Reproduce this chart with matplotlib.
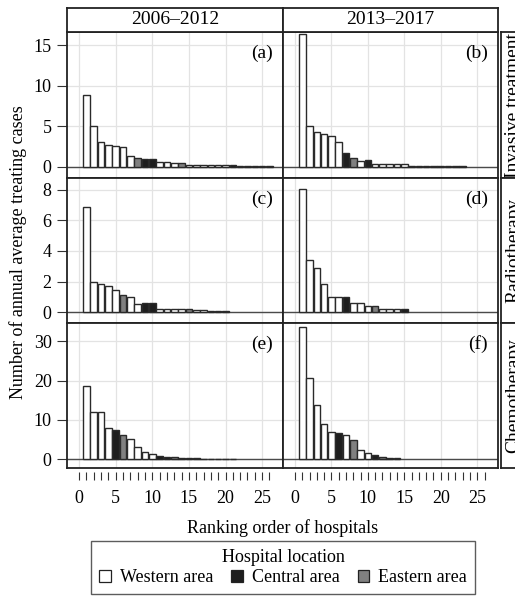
import matplotlib
matplotlib.use("Agg")
import matplotlib.pyplot as plt
from matplotlib.patches import Patch, Rectangle

plt.rcParams['font.family'] = ['Liberation Serif', 'DejaVu Serif']

# ---- data ----
periods = ["2006–2012", "2013–2017"]
treatments = ["Invasive treatment", "Radiotherapy", "Chemotherapy"]
panel_tags = [["(a)", "(b)"], ["(c)", "(d)"], ["(e)", "(f)"]]

a_vals = [8.8, 5.0, 3.1, 2.7, 2.6, 2.4, 1.3, 1.05, 0.9, 0.9, 0.55, 0.55, 0.4, 0.4,
          0.25, 0.25, 0.25, 0.25, 0.25, 0.25, 0.25, 0.12, 0.12, 0.12, 0.12, 0.12]
a_loc = list("WWWWWWWECCWWWEWWWWWWCWWWWW")
b_vals = [16.4, 5.0, 4.3, 4.0, 3.8, 3.0, 1.65, 1.03, 0.75, 0.82, 0.37, 0.37, 0.37,
          0.37, 0.37, 0.12, 0.12, 0.12, 0.12, 0.12, 0.12, 0.12, 0.12]
b_loc = list("WWWWWWCEWCWWWWWWWWWWWWC")
c_vals = [6.88, 2.0, 1.85, 1.71, 1.44, 1.15, 0.99, 0.56, 0.58, 0.58, 0.24, 0.24,
          0.24, 0.24, 0.24, 0.13, 0.13, 0.12, 0.12, 0.12]
c_loc = list("WWWWWEWWCCWWWWEWWCCC")
d_vals = [8.05, 3.44, 2.86, 1.84, 1.0, 1.0, 1.0, 0.62, 0.62, 0.41, 0.41, 0.21,
          0.21, 0.21, 0.21]
d_loc = list("WWWWWWCWWWEWWWC")
e_vals = [18.7, 11.95, 11.95, 7.87, 7.44, 6.25, 5.07, 3.2, 1.93, 1.27, 0.84, 0.66,
          0.5, 0.45, 0.4, 0.35, 0.2, 0.2, 0.2, 0.2, 0.2]
e_loc = list("WWWWCEWWWWCCECCCWWWWW")
f_vals = [33.5, 20.6, 13.8, 8.9, 6.85, 6.65, 6.05, 4.87, 2.4, 1.7, 1.2, 0.55, 0.3, 0.3]
f_loc = list("WWWWWCWEWWCECW")

loc_names = {"W": "Western area", "C": "Central area", "E": "Eastern area"}
loc_colors = {"W": "#FFFFFF", "C": "#1E1E1E", "E": "#808080"}

panels = [[(a_vals, a_loc), (b_vals, b_loc)],
          [(c_vals, c_loc), (d_vals, d_loc)],
          [(e_vals, e_loc), (f_vals, f_loc)]]
row_ylim = [(-1.4, 16.63), (-0.69, 8.75), (-2.2, 34.6)]
row_yticks = [[0, 5, 10, 15], [0, 2, 4, 6, 8], [0, 10, 20, 30]]
xticks_all = list(range(27))
xtick_labels = [str(t) if t % 5 == 0 else "" for t in xticks_all]

# ---- layout ----
W, H = 515, 597
fig = plt.figure(figsize=(W / 100, H / 100), dpi=100)

col_x = [(67, 283), (283, 498)]
row_y = [(32, 178), (178, 323), (323, 468)]

def fx(px):
    return px / W

def fy(py):
    return 1 - py / H

for r in range(3):
    for c in range(2):
        x0, x1 = col_x[c]
        y0, y1 = row_y[r]
        ax = fig.add_axes([fx(x0), fy(y1), fx(x1 - x0), (y1 - y0) / H])
        vals, locs = panels[r][c]
        pos = list(range(1, len(vals) + 1))
        ax.bar(pos, vals, width=0.9, color=[loc_colors[l] for l in locs],
               edgecolor="#2a2a2a", linewidth=1.0, zorder=3)
        ax.axhline(0, color="#4a4a4a", linewidth=1.0, zorder=2)
        ax.set_xlim(-1.64, 27.85)
        ax.set_ylim(*row_ylim[r])
        ax.set_xticks([0, 5, 10, 15, 20, 25])
        ax.set_yticks(row_yticks[r])
        ax.grid(True, color="#E3E3E3", linewidth=0.9, zorder=0)
        ax.set_axisbelow(True)
        for s in ax.spines.values():
            s.set_linewidth(1.3)
            s.set_color("#222222")
        ax.tick_params(axis="x", length=0, labelbottom=False)
        if c == 0:
            ax.tick_params(axis="y", direction="out", length=7, width=0.8,
                           color="#333333", labelsize=13, pad=4)
        else:
            ax.tick_params(axis="y", length=0, labelleft=False)
        ax.text(1 - 10 / (x1 - x0), 1 - 21 / (y1 - y0), panel_tags[r][c],
                transform=ax.transAxes, ha="right", va="center", fontsize=14)
        if r == 2:
            sec = ax.secondary_xaxis(-3.5 / (y1 - y0))
            sec.spines["bottom"].set_visible(False)
            sec.set_xticks(xticks_all)
            sec.set_xticklabels(xtick_labels)
            sec.tick_params(axis="x", direction="out", length=6, width=0.8,
                            color="#333333", labelsize=13, pad=7)

# top strips
for c in range(2):
    x0, x1 = col_x[c]
    sax = fig.add_axes([fx(x0), fy(32), fx(x1 - x0), 24 / H])
    sax.set_xticks([])
    sax.set_yticks([])
    for s in sax.spines.values():
        s.set_linewidth(1.3)
        s.set_color("#222222")
    sax.text(0.5, 0.5, periods[c], ha="center", va="center", fontsize=14,
             transform=sax.transAxes)

# right strips (cut off at the figure edge, as in the reference)
for r in range(3):
    y0, y1 = row_y[r]
    sax = fig.add_axes([fx(501), fy(y1), fx(26), (y1 - y0) / H])
    sax.set_xticks([])
    sax.set_yticks([])
    for s in sax.spines.values():
        s.set_linewidth(1.3)
        s.set_color("#222222")
    sax.text(0.5, 0.5, treatments[r], ha="center", va="center", fontsize=14,
             rotation=90, transform=sax.transAxes)

fig.text(fx(18), fy(252), "Number of annual average treating cases",
         rotation=90, ha="center", va="center", fontsize=13)
fig.text(fx(283), fy(528), "Ranking order of hospitals",
         ha="center", va="center", fontsize=13)

handles = [Patch(facecolor=loc_colors[k], edgecolor="#222222", linewidth=0.9)
           for k in ["W", "C", "E"]]
labels = [loc_names[k] for k in ["W", "C", "E"]]
leg = fig.legend(handles, labels, title="Hospital location", ncol=3,
                 loc="center", bbox_to_anchor=(fx(283), fy(567.5)),
                 fontsize=13, title_fontsize=13, frameon=True, fancybox=False,
                 handlelength=0.65, handleheight=0.65, handletextpad=0.5,
                 columnspacing=1.0, borderpad=0.45, labelspacing=0.2)
leg.get_frame().set_edgecolor("#333333")
leg.get_frame().set_linewidth(1.0)

fig.savefig("out.png", dpi=100)
